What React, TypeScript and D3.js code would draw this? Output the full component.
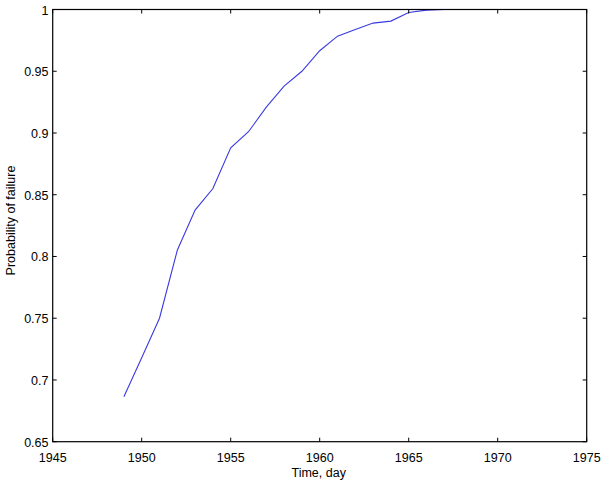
import React from "react";
import * as d3 from "d3";

const years = [1949, 1950, 1951, 1952, 1953, 1954, 1955, 1956, 1957, 1958, 1959, 1960, 1961, 1962, 1963, 1964, 1965, 1966, 1967, 1968, 1969, 1970, 1971, 1972, 1973, 1974, 1975];
const probability = [0.6864, 0.718, 0.750, 0.805, 0.8376, 0.855, 0.888, 0.901, 0.921, 0.938, 0.950, 0.9666, 0.9784, 0.9838, 0.989, 0.9906, 0.9976, 0.9995, 1, 1, 1, 1, 1, 1, 1, 1, 1];
const xTicks = [1945, 1950, 1955, 1960, 1965, 1970, 1975];
const yTicks = [0.65, 0.7, 0.75, 0.8, 0.85, 0.9, 0.95, 1];
const xLabel = "Time, day";
const yLabel = "Probability of failure";

export default function App() {
  const W = 603, H = 482;
  const left = 52.7, right = 586.7, top = 9.5, bottom = 441.7;
  const x = d3.scaleLinear().domain([1945, 1975]).range([left, right]);
  const y = d3.scaleLinear().domain([0.65, 1]).range([bottom, top]);
  const line = d3.line<number>().x((_, i) => x(years[i])).y((d) => y(d));
  const font = "'Liberation Sans', Arial, sans-serif";
  const tl = 4;
  const fs = 12.5;
  return (
    <svg width={W} height={H} style={{ position: "absolute", left: 0, top: 0 }} fontFamily={font}>
      <rect x={0} y={0} width={W} height={H} fill="#fff" />
      <path d={line(probability) || ""} fill="none" stroke="#3a3ae0" strokeWidth={1.1} />
      <rect x={left} y={top} width={right - left} height={bottom - top} fill="none" stroke="#000" strokeWidth={1.2} />
      {xTicks.map((t) => (
        <g key={"x" + t}>
          <line x1={x(t)} x2={x(t)} y1={bottom} y2={bottom - tl} stroke="#000" />
          <line x1={x(t)} x2={x(t)} y1={top} y2={top + tl} stroke="#000" />
          <text x={x(t)} y={461.5} fontSize={fs} textAnchor="middle">{String(t)}</text>
        </g>
      ))}
      {yTicks.map((t) => (
        <g key={"y" + t}>
          <line x1={left} x2={left + tl} y1={y(t)} y2={y(t)} stroke="#000" />
          <line x1={right} x2={right - tl} y1={y(t)} y2={y(t)} stroke="#000" />
          <text x={48.5} y={y(t) + 5} fontSize={fs} textAnchor="end">{String(t)}</text>
        </g>
      ))}
      <text x={318.7} y={476.5} fontSize={fs} textAnchor="middle">{xLabel}</text>
      <text transform={`translate(15,220.5) rotate(-90)`} fontSize={fs} textAnchor="middle">{yLabel}</text>
    </svg>
  );
}
